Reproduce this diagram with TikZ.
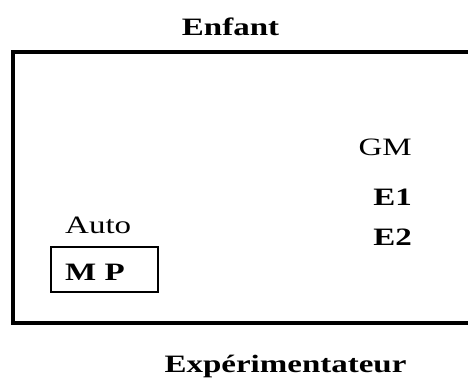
\documentclass[tikz,border=0pt]{standalone}
\usepackage{fontspec}
\newfontfamily\bmp{Liberation Serif}[FakeStretch=1.32]
\begin{document}
\begin{tikzpicture}[x=1pt,y=-1pt,
  lbl/.style={inner sep=0pt,font=\bmp\fontsize{25}{29}\selectfont},
  blbl/.style={lbl,font=\bmp\bfseries\fontsize{25}{29}\selectfont},
  mpbox/.style={draw,line width=2.5pt,inner sep=0pt,minimum width=107pt,minimum height=45pt}]
\useasboundingbox (0,0) rectangle (468,381);
\fill[white] (0,0) rectangle (468,381);
\coordinate (tr) at (472,52);
\coordinate (tl) at (12.5,52);
\coordinate (bl) at (12.5,323);
\coordinate (br) at (472,323);
\draw[line width=4pt] (tr) -- (tl) -- (bl) -- (br);
\node[blbl,anchor=base] (enfant) at (230.5,35) {Enfant};
\node[blbl,anchor=base] (exp) at (285.5,372) {Expérimentateur};
\node[lbl,anchor=base east] (gm) at (412,155) {GM};
\node[blbl,anchor=base east] (e1) at (412,205) {E1};
\node[blbl,anchor=base east] (e2) at (412,245) {E2};
\node[lbl,anchor=base west] (auto) at (65,233) {Auto};
\node[mpbox] (box) at (104.5,269.5) {};
\node[blbl,anchor=base west] (mp) at (65,280) {M P};
\end{tikzpicture}
\end{document}
